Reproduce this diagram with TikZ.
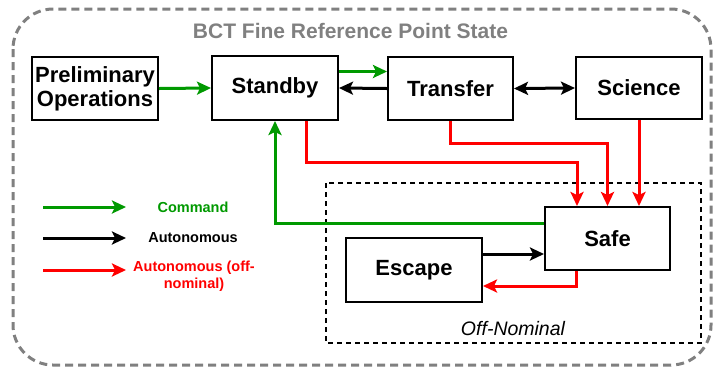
\documentclass[tikz,border=0pt]{standalone}
\usepackage{fontspec}
\setmainfont{Liberation Sans}
\usetikzlibrary{arrows.meta,calc}
\definecolor{cmdgreen}{HTML}{009900}
\definecolor{offred}{HTML}{FF0000}
\definecolor{outergray}{HTML}{808080}
\tikzset{
  statebox/.style={draw=black, line width=2pt, fill=white, inner sep=0pt, align=center,
    font=\fontsize{22}{24}\selectfont\bfseries},
  conn/.style={line width=3pt, -{Stealth[length=14pt,width=13pt,inset=3pt]}},
  twoway/.style={line width=3pt, {Stealth[length=14pt,width=13pt,inset=3pt]}-{Stealth[length=14pt,width=13pt,inset=3pt]}},
  cmd/.style={conn, draw=cmdgreen},
  auto/.style={conn, draw=black},
  offn/.style={conn, draw=offred},
  legtext/.style={font=\fontsize{14.5}{17}\selectfont\bfseries, align=center, inner sep=0pt},
}
\begin{document}
\begin{tikzpicture}[x={(1pt,0)}, y={(0,-1pt)}]
\useasboundingbox (0,0) rectangle (714,368);
% outer state container
\draw[outergray, line width=3pt, dash pattern=on 8pt off 5pt, rounded corners=40pt]
  (13,9) rectangle (711,365);
\node[text=outergray, font=\fontsize{21}{23}\selectfont\bfseries, inner sep=0pt] (title) at (350.5,31) {BCT Fine Reference Point State};
% off-nominal container
\draw[black, line width=1.5pt, dash pattern=on 5pt off 4pt] (326,183) rectangle (701,343);
\node[font=\fontsize{19.5}{22}\selectfont\itshape, inner sep=0pt] (offlabel) at (513,329) {Off-Nominal};
% state boxes
\node[statebox, minimum width=126pt, minimum height=63pt] (prelim) at (95,88.5) {Preliminary\\Operations};
\node[statebox, minimum width=126pt, minimum height=64pt] (standby) at (275,88) {Standby};
\node[statebox, minimum width=125pt, minimum height=63pt] (transfer) at (450.5,88.5) {Transfer};
\node[statebox, minimum width=126pt, minimum height=62pt] (science) at (639,88) {Science};
\node[statebox, minimum width=125pt, minimum height=63pt] (safe) at (607.5,238.5) {Safe};
\node[statebox, minimum width=136pt, minimum height=64pt] (escape) at (414,270) {Escape};
% top row connectors
\draw[cmd] (prelim.east) -- (standby.west);
\coordinate (sbT) at ($(standby.north east)!0.25!(standby.south east)$);
\draw[cmd] (sbT) -- (sbT -| transfer.west);
\draw[auto] (transfer.west) -- (standby.east);
\draw[twoway] (transfer.east) -- (science.west);
% off-nominal transitions into safe
\draw[offn] ($(standby.south)+(31,0)$) |- (577,162) -- ($(safe.north)+(-30.5,0)$);
\draw[offn] (transfer.south) |- (607.5,143) -- (safe.north);
\draw[offn] (science.south) -- ($(safe.north)+(31.5,0)$);
% safe back to standby
\draw[cmd] ($(safe.west)+(0,-15.5)$) -| (standby.south);
% escape <-> safe
\coordinate (esA) at ($(escape.east)+(0,-16)$);
\draw[auto] (esA) -- (esA -| safe.west);
\draw[offn] ($(safe.south)+(-31.5,0)$) |- ($(escape.east)+(0,16)$);
% legend
\coordinate (lg1a) at (43,207); \coordinate (lg1b) at (126,207);
\coordinate (lg2a) at (43,238); \coordinate (lg2b) at (126,238);
\coordinate (lg3a) at (43,270); \coordinate (lg3b) at (126,270);
\draw[cmd] (lg1a) -- (lg1b);
\draw[auto] (lg2a) -- (lg2b);
\draw[offn] (lg3a) -- (lg3b);
\node[legtext, text=cmdgreen] (lgc) at (193,207) {Command};
\node[legtext, text=black] (lga) at (193,238) {Autonomous};
\node[legtext, text=offred] (lgo) at (194,276) {Autonomous (off-\\nominal)};
\end{tikzpicture}
\end{document}
